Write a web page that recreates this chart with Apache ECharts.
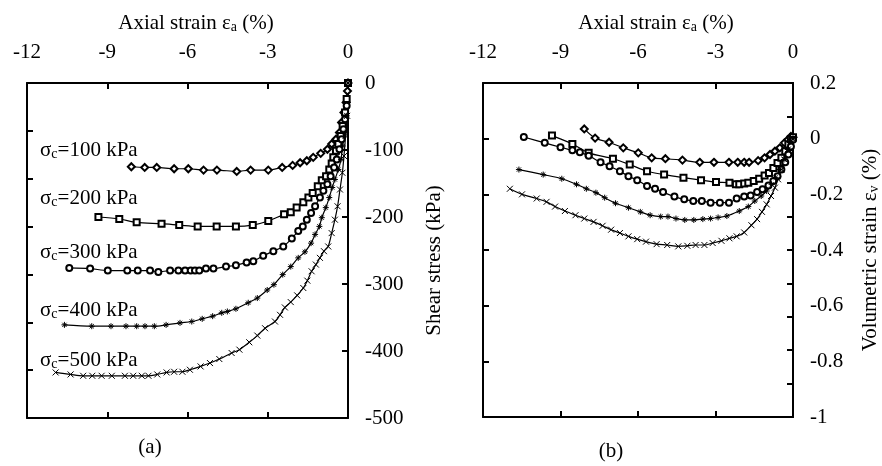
<!DOCTYPE html>
<html>
<head>
<meta charset="utf-8">
<script src="https://cdn.jsdelivr.net/npm/echarts/dist/echarts.min.js"></script>
<style>html,body{margin:0;padding:0;background:#fff}#c{width:882px;height:466px}</style>
</head>
<body>
<div id="c"></div>
<script>
// ---------- DATA ----------
const strainTicks = [-12, -9, -6, -3, 0];
const stressTicks = [0, -100, -200, -300, -400, -500];
const volTicks = [0.2, 0, -0.2, -0.4, -0.6, -0.8, -1];
const seriesNames = ['σc=100 kPa', 'σc=200 kPa', 'σc=300 kPa', 'σc=400 kPa', 'σc=500 kPa'];

// Panel (a): shear stress vs axial strain
const strainA100 = [-8.1,-7.6,-7.15,-6.5,-5.97,-5.4,-4.9,-4.16,-3.64,-2.98,-2.46,-2.07,-1.79,-1.54,-1.3,-1.02,-0.77,-0.61,-0.45,-0.32,-0.24,-0.15,-0.07,-0.02,0];
const stressA100 = [-125,-126,-126,-128,-128,-130,-130,-132,-130,-130,-126,-123,-119,-116,-111,-105,-99,-91,-84,-74,-59,-44,-29,-12,0];
const strainA200 = [-9.33,-8.55,-7.9,-6.97,-6.31,-5.62,-4.91,-4.19,-3.56,-2.98,-2.39,-2.14,-1.92,-1.67,-1.48,-1.32,-1.13,-0.98,-0.82,-0.7,-0.61,-0.55,-0.45,-0.36,-0.27,-0.2,-0.11,-0.05,0];
const stressA200 = [-200,-203,-208,-210,-212,-214,-214,-214,-212,-206,-196,-193,-186,-178,-171,-164,-154,-145,-139,-129,-120,-111,-101,-91,-79,-64,-44,-24,0];
const strainA300 = [-10.42,-9.64,-8.98,-8.25,-7.86,-7.4,-7.09,-6.65,-6.34,-6.09,-5.88,-5.72,-5.56,-5.31,-5.03,-4.56,-4.19,-3.79,-3.54,-3.17,-2.79,-2.42,-2.1,-1.86,-1.69,-1.54,-1.38,-1.23,-1.05,-0.92,-0.77,-0.65,-0.52,-0.42,-0.32,-0.24,-0.17,-0.11,-0.05,0];
const stressA300 = [-276,-277,-280,-280,-280,-280,-282,-280,-280,-280,-280,-280,-280,-277,-277,-274,-272,-268,-266,-258,-251,-244,-232,-221,-214,-204,-194,-184,-171,-161,-151,-139,-126,-114,-99,-84,-69,-54,-34,0];
const strainA400 = [-10.6,-9.58,-8.86,-8.3,-7.9,-7.59,-7.24,-6.8,-6.28,-5.84,-5.45,-5.06,-4.72,-4.51,-4.19,-3.73,-3.39,-3.02,-2.77,-2.44,-2.14,-1.86,-1.61,-1.38,-1.23,-1.07,-0.98,-0.83,-0.7,-0.59,-0.49,-0.36,-0.26,-0.2,-0.11,-0.05,0];
const stressA400 = [-361,-363,-363,-363,-363,-363,-363,-361,-358,-356,-352,-348,-343,-341,-337,-328,-321,-309,-301,-286,-274,-261,-252,-239,-226,-214,-201,-186,-171,-156,-144,-129,-114,-94,-74,-49,0];
const strainA500 = [-10.93,-10.37,-9.9,-9.56,-9.21,-8.83,-8.34,-8.03,-7.71,-7.46,-7.13,-6.78,-6.5,-6.19,-5.91,-5.51,-5.16,-4.81,-4.35,-4.06,-3.69,-3.39,-3.1,-2.73,-2.54,-2.36,-2.14,-1.9,-1.67,-1.52,-1.36,-1.2,-1.05,-0.9,-0.74,-0.61,-0.49,-0.39,-0.3,-0.21,-0.15,-0.09,-0.03,0];
const stressA500 = [-432,-435,-437,-437,-437,-437,-437,-437,-437,-437,-435,-432,-431,-431,-428,-423,-418,-412,-403,-398,-387,-377,-366,-356,-346,-335,-327,-317,-306,-295,-281,-271,-261,-251,-244,-224,-204,-184,-159,-134,-109,-79,-49,0];

// Panel (b): volumetric strain vs axial strain
const strainB100 = [-8.08,-7.66,-7.12,-6.57,-5.99,-5.47,-4.94,-4.28,-3.61,-3.06,-2.48,-2.14,-1.89,-1.7,-1.35,-1.1,-0.89,-0.7,-0.51,-0.33,-0.2,-0.08,0];
const volB100 = [0.035,0.002,-0.013,-0.033,-0.051,-0.069,-0.072,-0.077,-0.085,-0.085,-0.085,-0.085,-0.085,-0.085,-0.079,-0.069,-0.057,-0.045,-0.033,-0.015,-0.004,0.008,0.005];
const strainB200 = [-9.33,-8.54,-7.91,-6.97,-6.32,-5.65,-4.99,-4.24,-3.56,-2.98,-2.46,-2.21,-2.08,-1.89,-1.73,-1.52,-1.31,-1.1,-0.93,-0.76,-0.6,-0.45,-0.3,-0.18,-0.08,0];
const volB200 = [0.011,-0.019,-0.051,-0.072,-0.093,-0.117,-0.129,-0.14,-0.149,-0.156,-0.158,-0.164,-0.164,-0.161,-0.158,-0.152,-0.144,-0.132,-0.123,-0.105,-0.087,-0.069,-0.045,-0.021,-0.001,0.005];
const strainB300 = [-10.42,-9.61,-9.0,-8.54,-8.25,-7.91,-7.45,-7.1,-6.7,-6.37,-6.03,-5.65,-5.34,-5.03,-4.59,-4.21,-3.86,-3.53,-3.19,-2.83,-2.48,-2.18,-1.89,-1.64,-1.39,-1.18,-0.95,-0.76,-0.6,-0.45,-0.3,-0.18,-0.08,0];
const volB300 = [0.006,-0.015,-0.031,-0.042,-0.049,-0.061,-0.085,-0.099,-0.117,-0.135,-0.149,-0.17,-0.18,-0.192,-0.208,-0.218,-0.224,-0.224,-0.23,-0.23,-0.23,-0.215,-0.208,-0.204,-0.192,-0.182,-0.168,-0.152,-0.135,-0.111,-0.085,-0.057,-0.028,-0.004];
const strainB400 = [-10.61,-9.67,-8.95,-8.38,-8.0,-7.63,-7.29,-6.87,-6.37,-5.91,-5.53,-5.12,-4.84,-4.53,-4.19,-3.84,-3.49,-3.19,-2.9,-2.56,-2.08,-1.73,-1.48,-1.23,-1.02,-0.83,-0.67,-0.51,-0.35,-0.2,-0.1,0];
const volB400 = [-0.111,-0.129,-0.144,-0.164,-0.18,-0.194,-0.212,-0.232,-0.248,-0.263,-0.275,-0.28,-0.28,-0.287,-0.292,-0.292,-0.289,-0.287,-0.283,-0.278,-0.26,-0.244,-0.224,-0.206,-0.188,-0.164,-0.14,-0.111,-0.075,-0.039,-0.01,0];
const strainB500 = [-10.96,-10.49,-9.92,-9.54,-9.21,-8.83,-8.42,-8.08,-7.72,-7.37,-7.04,-6.7,-6.37,-6.03,-5.69,-5.28,-4.87,-4.44,-4.09,-3.77,-3.43,-3.11,-2.77,-2.46,-2.18,-1.89,-1.61,-1.39,-1.2,-1.02,-0.85,-0.7,-0.58,-0.45,-0.33,-0.2,-0.1,0];
const volB500 = [-0.18,-0.2,-0.215,-0.227,-0.244,-0.26,-0.275,-0.287,-0.299,-0.313,-0.327,-0.339,-0.351,-0.361,-0.37,-0.379,-0.382,-0.387,-0.385,-0.382,-0.382,-0.375,-0.367,-0.358,-0.351,-0.337,-0.311,-0.289,-0.263,-0.236,-0.206,-0.176,-0.146,-0.111,-0.075,-0.039,-0.01,0];

// ---------- CHART ----------
const FONT = "'Liberation Serif', 'Times New Roman', serif";
const FS = 21;
const zip = (a, b) => a.slice(0, Math.min(a.length, b.length)).map((v, i) => [v, b[i]]);

const X_SYM = 'path://M0,0L10,10M0,10L10,0';
const AST_SYM = 'path://M5,0L5,10M0,5L10,5M1.5,1.5L8.5,8.5M1.5,8.5L8.5,1.5';
const symbols = ['emptyDiamond', 'emptyRect', 'emptyCircle', AST_SYM, X_SYM];
const symSizes = [7, 6, 6, 6, 6];

const axLine = { show: true, onZero: false, lineStyle: { color: '#000', width: 2 } };
const inTick = { show: true, inside: true, length: 6, lineStyle: { color: '#000', width: 2 } };
const lbl = { color: '#000', fontFamily: FONT, fontSize: FS };

function xAx(grid, show) {
  return {
    type: 'value', gridIndex: grid, position: show ? 'top' : 'bottom',
    min: strainTicks[0], max: strainTicks[strainTicks.length - 1], interval: 3,
    axisLine: axLine, axisTick: inTick, splitLine: { show: false },
    axisLabel: show ? Object.assign({ margin: 20 }, lbl) : { show: false }
  };
}

const option = {
  backgroundColor: '#fff',
  animation: false,
  grid: [
    { left: 27, top: 83, width: 321, height: 335 },
    { left: 483, top: 83, width: 319, height: 334 }
  ],
  xAxis: [xAx(0, true), xAx(0, false), xAx(1, true), xAx(1, false)],
  yAxis: [
    { // (a) labelled right axis
      type: 'value', gridIndex: 0, position: 'right',
      min: stressTicks[stressTicks.length - 1], max: stressTicks[0], interval: 100,
      axisLine: axLine, axisTick: inTick, splitLine: { show: false },
      axisLabel: Object.assign({ margin: 17, align: 'left' }, lbl),
      name: 'Shear stress (kPa)', nameLocation: 'middle', nameRotate: 90, nameGap: 76,
      nameTextStyle: { color: '#000', fontFamily: FONT, fontSize: FS, padding: [0, 20, 0, 0] }
    },
    { // (a) left frame with ticks
      type: 'value', gridIndex: 0, position: 'left', min: 0, max: 7, interval: 1,
      axisLine: axLine, axisTick: inTick, splitLine: { show: false }, axisLabel: { show: false }
    },
    { // (b) labelled right axis
      type: 'value', gridIndex: 1, position: 'right',
      min: volTicks[volTicks.length - 1], max: volTicks[0], interval: 0.2,
      axisLine: axLine, axisTick: { show: false }, splitLine: { show: false },
      axisLabel: Object.assign({ margin: 17, align: 'left' }, lbl),
      name: 'Volumetric strain ε{s|v} (%)', nameLocation: 'middle', nameRotate: 90, nameGap: 66,
      nameTextStyle: { color: '#000', fontFamily: FONT, fontSize: FS, lineHeight: 22,
        rich: { s: { fontFamily: FONT, fontSize: 14, lineHeight: 14, verticalAlign: 'bottom', color: '#000' } } }
    },
    { // (b) right ticks
      type: 'value', gridIndex: 1, position: 'right', min: 0, max: 10, interval: 1,
      axisLine: axLine, axisTick: inTick, splitLine: { show: false }, axisLabel: { show: false }
    },
    { // (b) left frame with ticks
      type: 'value', gridIndex: 1, position: 'left', min: 0, max: 6, interval: 1,
      axisLine: axLine, axisTick: inTick, splitLine: { show: false }, axisLabel: { show: false }
    }
  ],
  series: [],
  graphic: []
};

const panelA = [[strainA100, stressA100], [strainA200, stressA200], [strainA300, stressA300], [strainA400, stressA400], [strainA500, stressA500]];
const panelB = [[strainB100, volB100], [strainB200, volB200], [strainB300, volB300], [strainB400, volB400], [strainB500, volB500]];

function addSeries(panel, xi, yi) {
  panel.forEach((p, k) => {
    option.series.push({
      type: 'line', name: seriesNames[k], xAxisIndex: xi, yAxisIndex: yi,
      data: zip(p[0], p[1]), smooth: 0.3,
      symbol: symbols[k], symbolSize: symSizes[k], showAllSymbol: true,
      lineStyle: { color: '#000', width: 1.2 },
      itemStyle: { color: '#000', borderColor: '#000', borderWidth: 1 },
      emphasis: { disabled: true }
    });
  });
}
addSeries(panelA, 0, 0);
addSeries(panelB, 2, 2);

const richSub = { s: { fontFamily: FONT, fontSize: 14, lineHeight: 14, verticalAlign: 'bottom', fill: '#000' } };
function txt(x, y, text, align) {
  return {
    type: 'text', x: x, y: y, silent: true,
    style: { text: text, fontFamily: FONT, fontSize: FS, lineHeight: 22, fill: '#000',
      align: align || 'center', verticalAlign: 'middle', rich: richSub }
  };
}
option.graphic.push(txt(196, 23, 'Axial strain ε{s|a} (%)'));
option.graphic.push(txt(656, 23, 'Axial strain ε{s|a} (%)'));
const labelY = [150, 198, 252, 310, 360];
seriesNames.forEach((n, k) => {
  option.graphic.push(txt(40, labelY[k], 'σ{s|c}' + n.slice(2), 'left'));
});
option.graphic.push(txt(150, 447, '(a)'));
option.graphic.push(txt(611, 451, '(b)'));

const chart = echarts.init(document.getElementById('c'), null, { renderer: 'canvas' });
chart.setOption(option);
</script>
</body>
</html>
